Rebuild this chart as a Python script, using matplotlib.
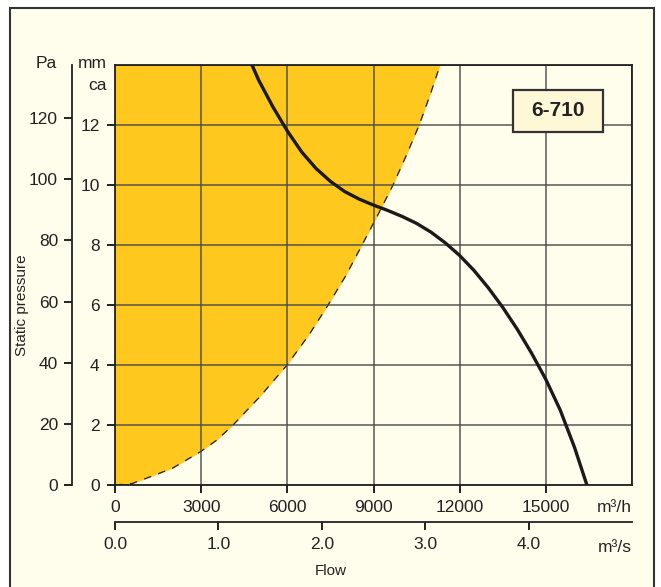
import matplotlib
matplotlib.use("Agg")
import matplotlib.pyplot as plt
from matplotlib.patches import Rectangle
import numpy as np

plt.rcParams['font.family'] = ['Liberation Sans Narrow', 'Liberation Sans', 'DejaVu Sans']

# fan curve (flow m3/h, static pressure mm ca)
fan_flow = [4770, 5000, 5500, 6000, 6500, 7000, 7500, 8000, 8500, 9000, 9500,
            10000, 10500, 11000, 11500, 12000, 12500, 13000, 13500, 14000,
            14500, 15000, 15500, 16000, 16430]
fan_mm = [14.0, 13.5, 12.6, 11.8, 11.1, 10.55, 10.12, 9.78, 9.53, 9.33, 9.15,
          8.95, 8.72, 8.43, 8.07, 7.65, 7.15, 6.57, 5.92, 5.2,
          4.4, 3.52, 2.5, 1.25, 0.0]

# edge of the yellow zone (system curve)
sys_flow = [0, 600, 1220, 2000, 2960, 3550, 4110, 5050, 5990, 6750, 7420,
            8050, 8600, 9150, 9680, 10150, 10590, 10970, 11320]
sys_mm = [0.0, 0.05, 0.27, 0.56, 1.1, 1.5, 2.0, 2.95, 4.0, 5.0, 6.0,
          7.0, 8.0, 9.0, 10.0, 11.0, 12.0, 13.0, 14.0]

flow_ticks = [0, 3000, 6000, 9000, 12000, 15000]
mm_ticks = [0, 2, 4, 6, 8, 10, 12]
pa_ticks = [0, 20, 40, 60, 80, 100, 120]
ms_ticks = [0.0, 1.0, 2.0, 3.0, 4.0]
model = "6-710"

W, H = 661, 587
cream = '#FFFDEC'
yellow = '#FFC81E'
dark = '#222222'

fig = plt.figure(figsize=(W / 100, H / 100), dpi=100, facecolor='white')
fig.patches.append(Rectangle((10 / W, -0.05), 644 / W, 1.05 - 8 / H,
                             transform=fig.transFigure, facecolor=cream,
                             edgecolor='#333333', lw=1.5, zorder=-5))

ax = fig.add_axes([115 / W, 1 - 485 / H, 517 / W, 420 / H])
ax.set_facecolor(cream)
ax.set_xlim(0, 18000)
ax.set_ylim(0, 14)

ax.fill_betweenx(sys_mm, 0, sys_flow, color=yellow, lw=0, zorder=1)
ax.plot(sys_flow, sys_mm, color=dark, lw=0.9, ls=(0, (6, 6)), zorder=1.2)
ax.plot(fan_flow, fan_mm, color='#1a1a1a', lw=2.4, zorder=3,
        solid_capstyle='butt', solid_joinstyle='round')

ax.set_xticks(flow_ticks)
ax.set_yticks(mm_ticks)
ax.grid(True, color='#4a4a4a', lw=1.2, alpha=0.85)
# the top/right gridlines coincide with the frame
ax.axhline(14, color=dark, lw=1.3)
ax.axvline(18000, color=dark, lw=1.3)
for s in ax.spines.values():
    s.set_color(dark)
    s.set_linewidth(1.3)
ax.tick_params(axis='both', direction='out', length=6, width=1.4, color=dark,
               labelsize=12.5, labelcolor=dark)
ax.tick_params(axis='x', pad=5)
ax.tick_params(axis='y', pad=5)

# Pa scale on the far left
pa = ax.secondary_yaxis(-43 / 517, functions=(lambda m: m * 9.81, lambda p: p / 9.81))
pa.set_yticks(pa_ticks)
pa.spines['left'].set_color(dark)
pa.spines['left'].set_linewidth(1.3)
pa.tick_params(direction='out', length=6, width=1.4, color=dark, labelsize=12.5,
               labelcolor=dark, pad=4)

# m3/s scale below
ms = ax.secondary_xaxis(-37 / 420, functions=(lambda q: q / 3600, lambda s: s * 3600))
ms.set_xticks(ms_ticks)
ms.set_xticklabels([f"{v:.1f}" for v in ms_ticks])
ms.spines['bottom'].set_color(dark)
ms.spines['bottom'].set_linewidth(1.3)
ms.tick_params(direction='out', length=6, width=1.4, color=dark, labelsize=12.5,
               labelcolor=dark, pad=5)

# model label box
ax.add_patch(Rectangle((13860, 11.77), 3130, 1.4, facecolor='#FFF8D6',
                       edgecolor='#333333', lw=1.6, zorder=5))
ax.text(15425, 12.47, model, ha='center', va='center',
        fontsize=15, fontweight='bold', color=dark, zorder=6)


def ftext(x, y, s, **kw):
    fig.text(x / W, 1 - y / H, s, color=dark, **kw)


ftext(46, 63, "Pa", ha='center', va='center', fontsize=12.5)
ftext(107, 63, "mm", ha='right', va='center', fontsize=12.5)
ftext(107, 86, "ca", ha='right', va='center', fontsize=12.5)
ftext(22, 305, "Static pressure", ha='center', va='center', rotation=90, fontsize=11)
ftext(632, 508, "m³/h", ha='right', va='center', fontsize=12.5)
ftext(632, 547, "m³/s", ha='right', va='center', fontsize=12.5)
ftext(331, 571, "Flow", ha='center', va='center', fontsize=11)

fig.savefig("out.png", dpi=100, facecolor='white')
